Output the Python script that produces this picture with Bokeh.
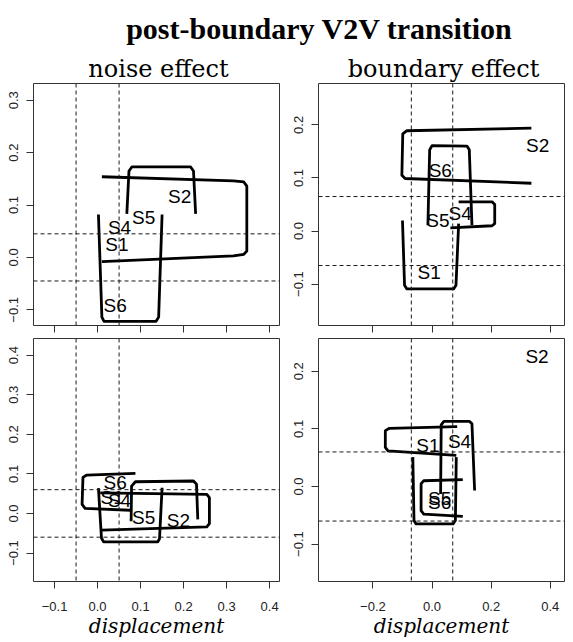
from bokeh.plotting import figure
from bokeh.models import Range1d, Span, FixedTicker
from bokeh.layouts import column, row
from bokeh.core.properties import value
from bokeh.embed import file_html
from bokeh.resources import INLINE

# ---------------- data ----------------
main_title = "post-boundary V2V transition"
col_titles = ["noise effect", "boundary effect"]
x_label = "displacement"

# tick values / labels
ticks_x_left = [-0.1, 0.0, 0.1, 0.2, 0.3, 0.4]
ticks_x_right = [-0.2, 0.0, 0.2, 0.4]
ticks_y_p1 = [-0.1, 0.0, 0.1, 0.2, 0.3]
ticks_y_p2 = [-0.1, 0.0, 0.1, 0.2]
ticks_y_p3 = [-0.1, 0.0, 0.1, 0.2, 0.3, 0.4]
ticks_y_p4 = [-0.1, 0.0, 0.1, 0.2]

# axis ranges
xr_left = (-0.149, 0.423)
xr_right = (-0.384, 0.448)
yr_p1 = (-0.130, 0.332)
yr_p2 = (-0.178, 0.278)
yr_p3 = (-0.172, 0.442)
yr_p4 = (-0.165, 0.257)

# dashed threshold lines (vertical x values, horizontal y values)
vlines_p1 = [-0.05, 0.05]
hlines_p1 = [-0.045, 0.045]
vlines_p2 = [-0.07, 0.07]
hlines_p2 = [-0.065, 0.065]
vlines_p3 = [-0.05, 0.05]
hlines_p3 = [-0.06, 0.06]
vlines_p4 = [-0.07, 0.07]
hlines_p4 = [-0.06, 0.06]

# ---- panel 1: noise effect, top ----
p1_s2_x = [0.010, 0.316, 0.340, 0.347, 0.347, 0.340, 0.316, 0.010]
p1_s2_y = [0.154, 0.146, 0.144, 0.136, 0.012, 0.006, 0.003, -0.008]
p1_s5_x = [0.068, 0.073, 0.080, 0.216, 0.223, 0.228]
p1_s5_y = [0.083, 0.165, 0.173, 0.173, 0.165, 0.083]
p1_s6_x = [0.002, 0.010, 0.015, 0.136, 0.142, 0.150]
p1_s6_y = [0.082, -0.114, -0.122, -0.122, -0.114, 0.082]
p1_lab = ["S2", "S5", "S4", "S1", "S6"]
p1_lab_x = [0.191, 0.107, 0.051, 0.045, 0.041]
p1_lab_y = [0.117, 0.077, 0.057, 0.025, -0.091]

# ---- panel 2: boundary effect, top ----
p2_s2_x = [0.336, -0.085, -0.099, -0.102, -0.091, 0.336]
p2_s2_y = [0.194, 0.189, 0.183, 0.105, 0.099, 0.090]
p2_s6_x = [-0.014, -0.008, 0.000, 0.118, 0.126, 0.135]
p2_s6_y = [0.011, 0.153, 0.161, 0.160, 0.153, 0.011]
p2_s4_x = [0.090, 0.203, 0.212, 0.212, 0.203, 0.062]
p2_s4_y = [0.055, 0.055, 0.050, 0.014, 0.010, 0.006]
p2_s1_x = [-0.100, -0.093, -0.085, 0.073, 0.081, 0.090]
p2_s1_y = [0.020, -0.102, -0.109, -0.109, -0.102, 0.014]
p2_lab = ["S2", "S6", "S5", "S4", "S1"]
p2_lab_x = [0.357, 0.028, 0.020, 0.095, -0.010]
p2_lab_y = [0.161, 0.115, 0.019, 0.033, -0.078]

# ---- panel 3: noise effect, bottom ----
p3_s6_x = [0.088, -0.025, -0.034, -0.036, -0.029, 0.076]
p3_s6_y = [0.101, 0.097, 0.091, 0.023, 0.013, 0.008]
p3_s5_x = [0.078, 0.079, 0.088, 0.223, 0.230, 0.233]
p3_s5_y = [-0.020, 0.069, 0.080, 0.082, 0.074, -0.015]
p3_s2_x = [0.006, 0.254, 0.260, 0.260, 0.254, 0.010]
p3_s2_y = [0.052, 0.048, 0.040, -0.026, -0.034, -0.042]
p3_s4_x = [0.002, 0.009, 0.014, 0.140, 0.144, 0.150]
p3_s4_y = [0.064, -0.062, -0.072, -0.072, -0.064, 0.065]
p3_lab = ["S6", "S1", "S4", "S5", "S2"]
p3_lab_x = [0.041, 0.034, 0.051, 0.107, 0.188]
p3_lab_y = [0.078, 0.041, 0.033, -0.011, -0.018]

# ---- panel 4: boundary effect, bottom ----
p4_s1_x = [0.085, -0.144, -0.158, -0.158, -0.149, 0.082]
p4_s1_y = [0.104, 0.101, 0.097, 0.068, 0.062, 0.054]
p4_u_x = [-0.065, -0.061, -0.054, 0.071, 0.079, 0.082]
p4_u_y = [0.051, -0.059, -0.065, -0.065, -0.059, 0.051]
p4_s4_x = [0.029, 0.031, 0.040, 0.127, 0.135, 0.144]
p4_s4_y = [-0.013, 0.107, 0.113, 0.113, 0.109, -0.007]
p4_s5_x = [0.104, -0.028, -0.037, -0.037, -0.028, 0.104]
p4_s5_y = [0.012, 0.010, 0.005, -0.042, -0.048, -0.052]
p4_lab = ["S1", "S4", "S5", "S6", "S2"]
p4_lab_x = [-0.014, 0.093, 0.026, 0.026, 0.355]
p4_lab_y = [0.072, 0.078, -0.020, -0.027, 0.226]


def fmt(v):
    s = "%.1f" % v
    return s.replace("-", "\u2212")


SANS = "Liberation Sans"
LINE_W = 2.8


def make_panel(width, height, xr, yr, xt, yt, b_left, b_right, b_bottom, bottom_row):
    p = figure(width=width, height=height, output_backend="svg", toolbar_location=None,
               x_range=Range1d(*xr), y_range=Range1d(*yr),
               min_border_left=b_left, min_border_right=b_right,
               min_border_top=1, min_border_bottom=b_bottom)
    p.grid.visible = False
    p.outline_line_color = "#333333"
    p.outline_line_width = 1
    p.background_fill_color = "white"
    p.border_fill_color = "white"
    for ax in (p.xaxis[0], p.yaxis[0]):
        ax.axis_line_color = None
        ax.major_tick_line_color = "#333333"
        ax.major_tick_out = 7
        ax.major_tick_in = 0
        ax.minor_tick_line_color = None
        ax.major_label_text_font = SANS
        ax.major_label_text_font_size = "13px"
        ax.major_label_text_color = "#222222"
    p.xaxis.ticker = FixedTicker(ticks=xt)
    p.yaxis.ticker = FixedTicker(ticks=yt)
    p.yaxis.major_label_overrides = {t: fmt(t) for t in yt}
    p.yaxis.major_label_orientation = "vertical"
    p.yaxis.major_label_standoff = 8
    if bottom_row:
        p.xaxis.major_label_overrides = {t: fmt(t) for t in xt}
        p.xaxis.major_label_standoff = 13
        p.xaxis.axis_label = x_label
        p.xaxis.axis_label_text_font = "DejaVu Serif"
        p.xaxis.axis_label_text_font_style = "italic"
        p.xaxis.axis_label_text_font_size = "20px"
        p.xaxis.axis_label_text_color = "black"
        p.xaxis.axis_label_standoff = 0
    else:
        p.xaxis.major_label_overrides = {t: "" for t in xt}
        p.xaxis.major_label_text_font_size = "1px"
        p.xaxis.major_label_standoff = 0
    return p


def add_refs(p, vl, hl):
    for v in vl:
        p.add_layout(Span(location=v, dimension="height", line_color="#1a1a1a",
                          line_width=1, line_dash="4 3"))
    for h in hl:
        p.add_layout(Span(location=h, dimension="width", line_color="#1a1a1a",
                          line_width=1, line_dash="4 3"))


def add_paths(p, paths):
    for xs, ys in paths:
        p.line(xs, ys, line_color="black", line_width=LINE_W,
               line_join="round", line_cap="butt")


def add_labels(p, xs, ys, labs):
    p.text(x=xs, y=ys, text=labs, text_font=value(SANS), text_font_size="19px",
           text_align="center", text_baseline="middle", text_color="black")


# header with the titles
header = figure(width=573, height=82, output_backend="svg", toolbar_location=None,
                x_range=Range1d(0, 573), y_range=Range1d(82, 0),
                x_axis_type=None, y_axis_type=None,
                min_border=0, min_border_left=0, min_border_right=0,
                min_border_top=0, min_border_bottom=0)
header.grid.visible = False
header.outline_line_color = None
header.text(x=[319], y=[28], text=[main_title], text_font=value("Liberation Serif"),
            text_font_style="bold", text_font_size="30px", text_align="center",
            text_baseline="alphabetic", text_color="black")
header.text(x=[158, 443], y=[68, 68], text=col_titles, text_font=value("DejaVu Serif"),
            text_font_size="24px", text_align="center", text_baseline="alphabetic",
            text_color="black")

p1 = make_panel(287, 255, xr_left, yr_p1, ticks_x_left, ticks_y_p1, 33, 8, 12, False)
p2 = make_panel(286, 255, xr_right, yr_p2, ticks_x_right, ticks_y_p2, 31, 9, 12, False)
p3 = make_panel(287, 303, xr_left, yr_p3, ticks_x_left, ticks_y_p3, 33, 8, 59, True)
p4 = make_panel(286, 303, xr_right, yr_p4, ticks_x_right, ticks_y_p4, 31, 9, 59, True)

add_refs(p1, vlines_p1, hlines_p1)
add_refs(p2, vlines_p2, hlines_p2)
add_refs(p3, vlines_p3, hlines_p3)
add_refs(p4, vlines_p4, hlines_p4)

add_paths(p1, [(p1_s2_x, p1_s2_y), (p1_s5_x, p1_s5_y), (p1_s6_x, p1_s6_y)])
add_paths(p2, [(p2_s2_x, p2_s2_y), (p2_s6_x, p2_s6_y), (p2_s4_x, p2_s4_y), (p2_s1_x, p2_s1_y)])
add_paths(p3, [(p3_s6_x, p3_s6_y), (p3_s5_x, p3_s5_y), (p3_s2_x, p3_s2_y), (p3_s4_x, p3_s4_y)])
add_paths(p4, [(p4_s1_x, p4_s1_y), (p4_u_x, p4_u_y), (p4_s4_x, p4_s4_y), (p4_s5_x, p4_s5_y)])

add_labels(p1, p1_lab_x, p1_lab_y, p1_lab)
add_labels(p2, p2_lab_x, p2_lab_y, p2_lab)
add_labels(p3, p3_lab_x, p3_lab_y, p3_lab)
add_labels(p4, p4_lab_x, p4_lab_y, p4_lab)

layout = column(header, row(p1, p2), row(p3, p4))

open("out.html", "w").write(file_html(layout, INLINE))
